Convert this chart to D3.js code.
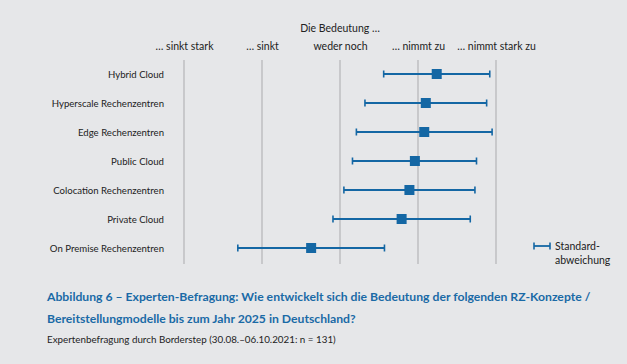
<!DOCTYPE html>
<html><head><meta charset="utf-8">
<script src="https://cdn.jsdelivr.net/npm/d3@7"></script>
<style>
html,body{margin:0;padding:0;background:#e6e7e9;}
svg{display:block;font-family:Lato,"Open Sans",sans-serif;}
</style></head><body>
<svg id="c" width="627" height="364"></svg>
<script>
const categories = ["Hybrid Cloud","Hyperscale Rechenzentren","Edge Rechenzentren","Public Cloud","Colocation Rechenzentren","Private Cloud","On Premise Rechenzentren"];
const means = [4.24, 4.10, 4.08, 3.96, 3.89, 3.79, 2.63];
const lows  = [3.56, 3.32, 3.21, 3.16, 3.05, 2.91, 1.69];
const highs = [4.92, 4.88, 4.95, 4.75, 4.73, 4.67, 3.57];
const tickValues = [1,2,3,4,5];
const tickLabels = ["… sinkt stark","… sinkt","weder noch","… nimmt zu","… nimmt stark zu"];
const headerText = "Die Bedeutung …";
const legendLines = ["Standard-","abweichung"];
const titleLines = ["Abbildung 6 – Experten-Befragung: Wie entwickelt sich die Bedeutung der folgenden RZ-Konzepte /","Bereitstellungmodelle bis zum Jahr 2025 in Deutschland?"];
const sourceText = "Expertenbefragung durch Borderstep (30.08.–06.10.2021: n = 131)";

const blue = "#1467a4";
const svg = d3.select("#c");
const x = d3.scaleLinear().domain([1,5]).range([184,496]);
const y = d3.scalePoint().domain(categories).range([74,248]);

// header
svg.append("text").attr("x",x(3)).attr("y",32).attr("text-anchor","middle")
  .attr("font-size",10.5).attr("fill","#222").text(headerText);

// axis on top (labels only)
const ax = svg.append("g").attr("transform","translate(0,50)")
  .call(d3.axisTop(x).tickValues(tickValues).tickFormat((d,i)=>tickLabels[i]).tickSize(0).tickPadding(0));
ax.select(".domain").remove();
ax.selectAll("text").attr("font-size",10.5).attr("fill","#222").attr("font-family","Lato,'Open Sans',sans-serif");

// gridlines
svg.append("g").selectAll("line").data(tickValues).join("line")
  .attr("x1",d=>x(d)).attr("x2",d=>x(d)).attr("y1",60).attr("y2",264)
  .attr("stroke","#b4b5b8").attr("stroke-width",1.2);

// category labels
const ay = svg.append("g").attr("transform","translate(164,0)")
  .call(d3.axisLeft(y).tickSize(0).tickPadding(0));
ay.select(".domain").remove();
ay.selectAll("text").attr("font-size",9.6).attr("fill","#222").attr("font-family","Lato,'Open Sans',sans-serif");

// error bars
const rows = categories.map((c,i)=>({c,m:means[i],lo:lows[i],hi:highs[i]}));
const g = svg.append("g");
g.selectAll("line.bar").data(rows).join("line").attr("class","bar")
  .attr("x1",d=>x(d.lo)).attr("x2",d=>x(d.hi)).attr("y1",d=>y(d.c)).attr("y2",d=>y(d.c))
  .attr("stroke",blue).attr("stroke-width",1.8);
["lo","hi"].forEach(k=>{
  g.selectAll("line.cap"+k).data(rows).join("line").attr("class","cap"+k)
    .attr("x1",d=>x(d[k])).attr("x2",d=>x(d[k])).attr("y1",d=>y(d.c)-3.5).attr("y2",d=>y(d.c)+3.5)
    .attr("stroke",blue).attr("stroke-width",1.6);
});
g.selectAll("rect").data(rows).join("rect")
  .attr("x",d=>x(d.m)-5).attr("y",d=>y(d.c)-5).attr("width",10).attr("height",10)
  .attr("fill",blue);

// legend
const lg = svg.append("g").attr("transform","translate(534,246)");
lg.append("line").attr("x1",0).attr("x2",16).attr("y1",0).attr("y2",0).attr("stroke",blue).attr("stroke-width",1.8);
lg.append("line").attr("x1",0).attr("x2",0).attr("y1",-3.5).attr("y2",3.5).attr("stroke",blue).attr("stroke-width",1.6);
lg.append("line").attr("x1",16).attr("x2",16).attr("y1",-3.5).attr("y2",3.5).attr("stroke",blue).attr("stroke-width",1.6);
lg.selectAll("text").data(legendLines).join("text")
  .attr("x",21).attr("y",(d,i)=>4+i*14).attr("font-size",10.5).attr("fill","#222").text(d=>d);

// title
svg.selectAll("text.title").data(titleLines).join("text").attr("class","title")
  .attr("x",47).attr("y",(d,i)=>301+i*22).attr("font-size",12.2).attr("font-weight","bold")
  .attr("fill","#1a6aa6").text(d=>d);
svg.append("text").attr("x",47).attr("y",343).attr("font-size",9.8).attr("fill","#222").text(sourceText);
</script>
</body></html>
